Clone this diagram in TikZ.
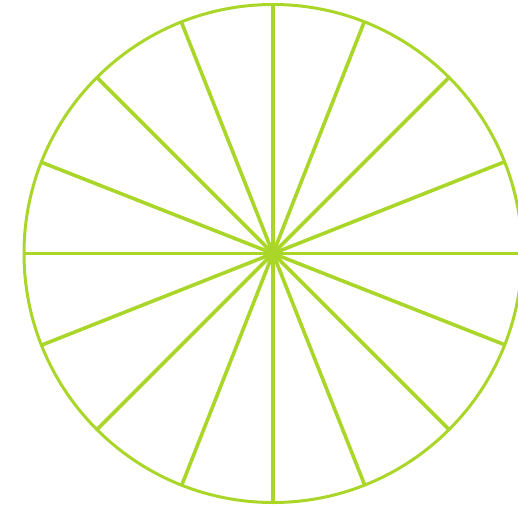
\documentclass[tikz,border=0pt]{standalone}
\definecolor{lime}{RGB}{170,214,42}
\begin{document}
\begin{tikzpicture}[x=1pt,y=1pt,
  spoke/.style={draw=lime,line width=3.6pt},
  rim/.style={draw=lime,line width=3pt}]
\useasboundingbox (0,0) rectangle (518,515);
\clip (0,0) rectangle (518,515);
\coordinate (c) at (273,261.5);
\foreach \q in {0,90,180,270}{
  \foreach \a in {0,21.6,45,68.5}{
    \draw[spoke] (c) -- ++(\q+\a:249);
  }
}
\draw[rim] (c) circle (249);
\fill[lime] (c) circle (8);
\end{tikzpicture}
\end{document}
